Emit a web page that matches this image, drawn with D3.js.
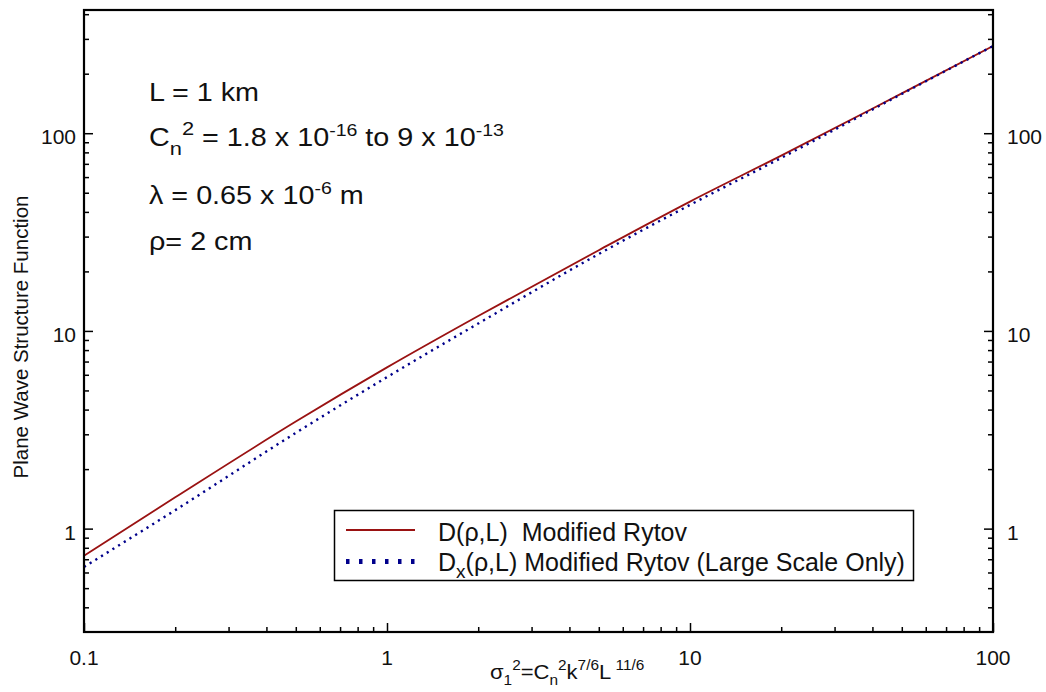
<!DOCTYPE html>
<html>
<head>
<meta charset="utf-8">
<script src="https://cdn.jsdelivr.net/npm/d3@7"></script>
<style>
  html, body { margin: 0; padding: 0; background: #fff; }
  svg text { font-family: Arial, "Liberation Sans", Helvetica, sans-serif; fill: #111; white-space: pre; }
</style>
</head>
<body>
<svg id="chart" width="1046" height="692"></svg>
<script>
// Log-normalized turbulence strength (Rytov variance) on the horizontal axis
const sigma = [0.1, 0.2, 0.5, 1, 2, 5, 10, 20, 50, 100];
// Plane-wave structure function, modified Rytov theory
const dFull = [0.73, 1.44, 3.48, 6.54, 11.9, 25.6, 45.1, 77.0, 159, 276];
// Large-scale contribution only
const dLarge = [0.64, 1.24, 3.05, 5.84, 10.9, 24.5, 43.4, 75.0, 158, 276];

const xTickValues = [0.1, 1, 10, 100];
const xTickLabels = ["0.1", "1", "10", "100"];
const yTickValues = [1, 10, 100];
const yTickLabels = ["1", "10", "100"];

const seriesNames = ["D(\u03C1,L)  Modified Rytov", "Modified Rytov (Large Scale Only)"];

const W = 1046, H = 692;
const margin = { left: 84, right: 53, top: 10, bottom: 60 };
const plotL = margin.left, plotR = W - margin.right;
const plotT = margin.top, plotB = H - margin.bottom;

const svg = d3.select("#chart");

const x = d3.scaleLog().domain([0.1, 100]).range([plotL, plotR]);
const y = d3.scaleLog().domain([0.3, 420]).range([plotB, plotT]);

// minor tick values for each decade
function minorTicks(scale) {
  const [a, b] = scale.domain();
  const out = [];
  for (let e = Math.floor(Math.log10(a)); e <= Math.ceil(Math.log10(b)); e++) {
    for (let m = 2; m <= 9; m++) {
      const v = m * Math.pow(10, e);
      if (v > a * 1.0001 && v < b * 0.9999) out.push(v);
    }
  }
  return out;
}

const axisG = svg.append("g");

// bottom axis, ticks pointing inward
axisG.append("g").attr("transform", `translate(0,${plotB})`)
  .call(d3.axisTop(x).tickValues(xTickValues).tickSize(9).tickFormat(""));
axisG.append("g").attr("transform", `translate(0,${plotB})`)
  .call(d3.axisTop(x).tickValues(minorTicks(x)).tickSize(5).tickFormat(""));

// left axis
axisG.append("g").attr("transform", `translate(${plotL},0)`)
  .call(d3.axisRight(y).tickValues(yTickValues).tickSize(9).tickFormat(""));
axisG.append("g").attr("transform", `translate(${plotL},0)`)
  .call(d3.axisRight(y).tickValues(minorTicks(y)).tickSize(5).tickFormat(""));

// right axis
axisG.append("g").attr("transform", `translate(${plotR},0)`)
  .call(d3.axisLeft(y).tickValues(yTickValues).tickSize(9).tickFormat(""));
axisG.append("g").attr("transform", `translate(${plotR},0)`)
  .call(d3.axisLeft(y).tickValues(minorTicks(y)).tickSize(5).tickFormat(""));

axisG.selectAll(".domain").remove();
axisG.selectAll(".tick line").attr("stroke", "#000").attr("stroke-width", 1.5);

// tick labels
svg.append("g").selectAll("text").data(xTickValues).join("text")
  .attr("x", d => x(d)).attr("y", plotB + 33)
  .attr("text-anchor", "middle").attr("font-size", 21)
  .text((d, i) => xTickLabels[i]);

svg.append("g").selectAll("text").data(yTickValues).join("text")
  .attr("x", plotL - 8).attr("y", d => y(d) + 11)
  .attr("text-anchor", "end").attr("font-size", 21)
  .text((d, i) => yTickLabels[i]);

svg.append("g").selectAll("text").data(yTickValues).join("text")
  .attr("x", plotR + 14).attr("y", d => y(d) + 11)
  .attr("text-anchor", "start").attr("font-size", 21)
  .text((d, i) => yTickLabels[i]);

// curves
const pts = vals => sigma.map((s, i) => [s, vals[i]]);
const line = d3.line().x(d => x(d[0])).y(d => y(d[1])).curve(d3.curveMonotoneX);

const curves = svg.append("g");
curves.append("path").datum(pts(dFull))
  .attr("d", line).attr("fill", "none")
  .attr("stroke", "#9a1212").attr("stroke-width", 1.8);
curves.append("path").datum(pts(dLarge))
  .attr("d", line).attr("fill", "none")
  .attr("stroke", "#00008b").attr("stroke-width", 2.4)
  .attr("stroke-linecap", "butt")
  .attr("stroke-dasharray", "2.2,4.5");

// frame
svg.append("rect")
  .attr("x", plotL).attr("y", plotT)
  .attr("width", plotR - plotL).attr("height", plotB - plotT)
  .attr("fill", "none").attr("stroke", "#000").attr("stroke-width", 2.2);

// text placed at (px, py) and widened horizontally by sx
function wideText(parent, px, py, sx, size) {
  return parent.append("g")
    .attr("transform", `translate(${px},${py}) scale(${sx},1)`)
    .append("text").attr("x", 0).attr("y", 0).attr("font-size", size);
}

// parameter annotation
const note = svg.append("g");
const SX = 1.15, FS = 25;
wideText(note, 149, 101, SX, FS).text("L = 1 km");

const t2 = wideText(note, 149, 146, SX, FS);
t2.append("tspan").text("C");
t2.append("tspan").attr("font-size", 19).attr("dy", 9).text("n");
t2.append("tspan").attr("font-size", 19).attr("dy", -20).text("2");
t2.append("tspan").attr("dy", 11).text(" = 1.8 x 10");
t2.append("tspan").attr("font-size", 17).attr("dy", -10).text("-16");
t2.append("tspan").attr("dy", 10).text(" to 9 x 10");
t2.append("tspan").attr("font-size", 17).attr("dy", -10).text("-13");

const t3 = wideText(note, 149, 204, SX, FS);
t3.append("tspan").text("\u03BB = 0.65 x 10");
t3.append("tspan").attr("font-size", 17).attr("dy", -10).text("-6");
t3.append("tspan").attr("dy", 10).text(" m");

wideText(note, 149, 250, SX, FS).text("\u03C1= 2 cm");

// axis titles
svg.append("text")
  .attr("transform", `translate(28,${(plotT + plotB) / 2 + 16}) rotate(-90)`)
  .attr("text-anchor", "middle").attr("font-size", 20.5)
  .text("Plane Wave Structure Function");

const xt = wideText(svg, 490, 679, 1.1, 20);
xt.append("tspan").text("\u03C3");
xt.append("tspan").attr("font-size", 14).attr("dy", 6).text("1");
xt.append("tspan").attr("font-size", 14).attr("dy", -15).text("2");
xt.append("tspan").attr("dy", 9).text("=C");
xt.append("tspan").attr("font-size", 14).attr("dy", 6).text("n");
xt.append("tspan").attr("font-size", 14).attr("dy", -15).text("2");
xt.append("tspan").attr("dy", 9).text("k");
xt.append("tspan").attr("font-size", 14).attr("dy", -9).text("7/6");
xt.append("tspan").attr("dy", 9).text("L");
xt.append("tspan").attr("font-size", 14).attr("dy", -9).text(" 11/6");

// legend
const lg = svg.append("g");
lg.append("rect").attr("x", 334.5).attr("y", 510.5).attr("width", 579).attr("height", 70)
  .attr("fill", "#fff").attr("stroke", "#000").attr("stroke-width", 1.5);
lg.append("line").attr("x1", 346).attr("x2", 415).attr("y1", 530).attr("y2", 530)
  .attr("stroke", "#9a1212").attr("stroke-width", 2);
lg.append("line").attr("x1", 346).attr("x2", 415).attr("y1", 561.5).attr("y2", 561.5)
  .attr("stroke", "#00008b").attr("stroke-width", 5)
  .attr("stroke-dasharray", "3.5,9.5");
lg.append("text").attr("x", 438).attr("y", 541).attr("font-size", 25).text(seriesNames[0]);
const l2 = lg.append("text").attr("x", 438).attr("y", 571).attr("font-size", 25);
l2.append("tspan").text("D");
l2.append("tspan").attr("font-size", 19).attr("dy", 7).text("x");
l2.append("tspan").attr("dy", -7).text("(\u03C1,L) " + seriesNames[1]);
</script>
</body>
</html>
